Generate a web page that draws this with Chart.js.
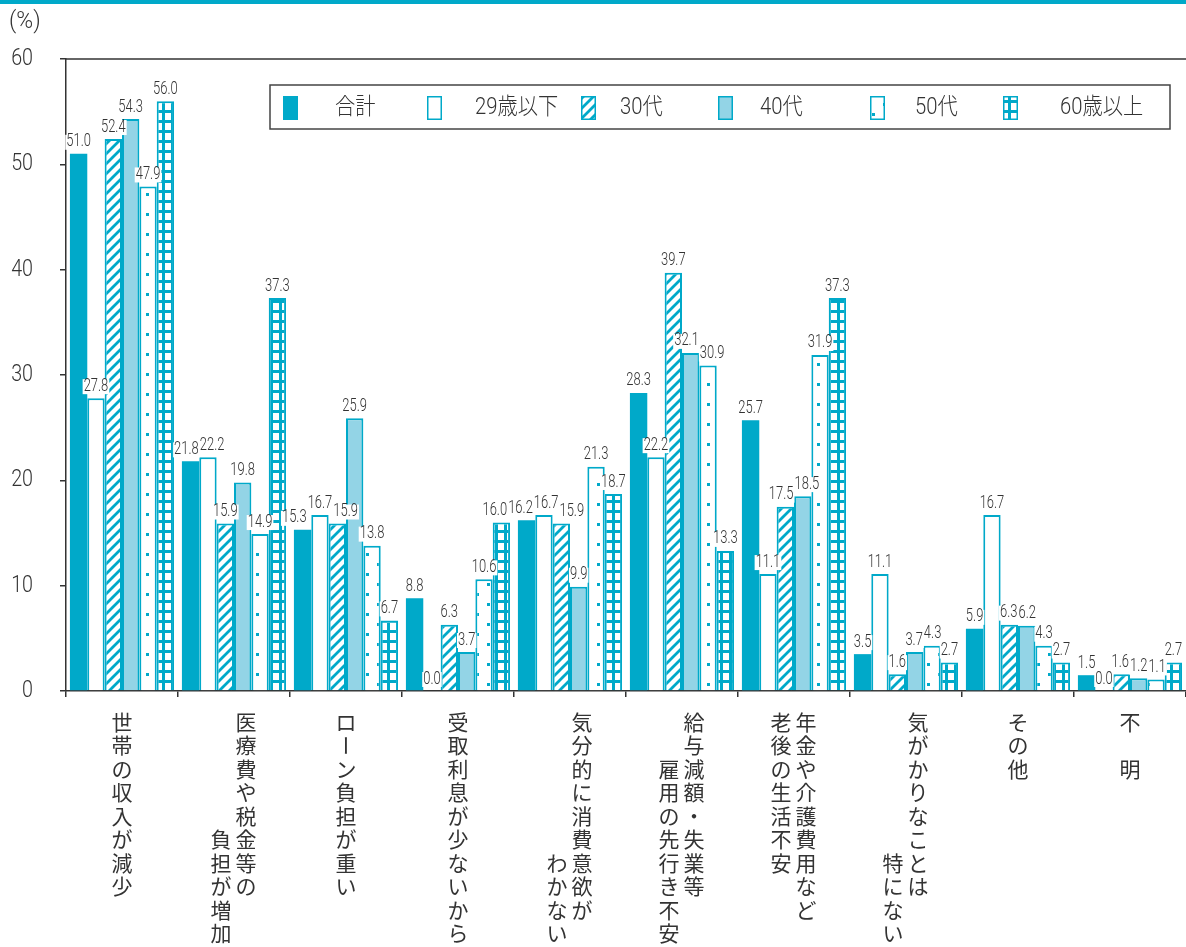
<!DOCTYPE html>
<html lang="ja">
<head>
<meta charset="utf-8">
<title>気がかりなこと</title>
<script src="https://cdn.jsdelivr.net/npm/chart.js@4.4.1/dist/chart.umd.min.js"></script>
<style>
  html, body { margin: 0; padding: 0; background: #fff; }
  #wrap { width: 1186px; height: 947px; }
</style>
</head>
<body>
<div id="wrap"><canvas id="grafico" width="1186" height="947"></canvas></div>
<script>
// categorias (texto vertical, cada item = uma coluna)
const categorias = [
  ["世帯の収入が減少"],
  ["医療費や税金等の", "負担が増加"],
  ["ローン負担が重い"],
  ["受取利息が少ないから"],
  ["気分的に消費意欲が", "わかない"],
  ["給与減額・失業等", "雇用の先行き不安"],
  ["年金や介護費用など", "老後の生活不安"],
  ["気がかりなことは", "特にない"],
  ["その他"],
  ["不　明"]
];

const series = ["合計", "29歳以下", "30代", "40代", "50代", "60歳以上"];

const goukei  = [51.0, 21.8, 15.3,  8.8, 16.2, 28.3, 25.7, 3.5, 5.9, 1.5];
const dai20   = [27.8, 22.2, 16.7,  0.0, 16.7, 22.2, 11.1, 11.1, 16.7, 0.0];
const dai30   = [52.4, 15.9, 15.9,  6.3, 15.9, 39.7, 17.5, 1.6, 6.3, 1.6];
const dai40   = [54.3, 19.8, 25.9,  3.7,  9.9, 32.1, 18.5, 3.7, 6.2, 1.2];
const dai50   = [47.9, 14.9, 13.8, 10.6, 21.3, 30.9, 31.9, 4.3, 4.3, 1.1];
const dai60   = [56.0, 37.3,  6.7, 16.0, 18.7, 13.3, 37.3, 2.7, 2.7, 2.7];

const yTicks = [0, 10, 20, 30, 40, 50, 60];

const TEAL = "#00a9c9";
const LIGHT = "#93d4e6";
const TXT = "#333333";
const NUM_FONT = 'Roboto, "Noto Sans CJK JP", sans-serif';
const JP_FONT = '"Noto Sans CJK JP", sans-serif';

// padrões de preenchimento
function padrao(w, h, desenha) {
  const c = document.createElement("canvas");
  c.width = w; c.height = h;
  const g = c.getContext("2d");
  g.fillStyle = "#fff";
  g.fillRect(0, 0, w, h);
  g.fillStyle = TEAL;
  g.strokeStyle = TEAL;
  desenha(g);
  return g.createPattern(c, "repeat");
}

const hachura = padrao(10, 10, g => {
  g.lineWidth = 2.8;
  g.beginPath();
  g.moveTo(-5, 5); g.lineTo(5, -5);
  g.moveTo(0, 10); g.lineTo(10, 0);
  g.moveTo(5, 15); g.lineTo(15, 5);
  g.stroke();
});
const pontos = padrao(22, 20, g => {
  g.fillRect(3, 3, 3, 3);
  g.fillRect(14, 13, 3, 3);
});
const grade = padrao(9, 10, g => {
  g.fillRect(0, 0, 9, 3);
  g.fillRect(0, 0, 3, 10);
});

const fundos = [TEAL, "#ffffff", hachura, LIGHT, pontos, grade];
const valores = [goukei, dai20, dai30, dai40, dai50, dai60];

// posição das colunas do rótulo (linha inicial da 2a coluna)
const inicioColuna = [[0], [0, 5], [0], [0], [0, 6], [0, 2], [0, 0], [0, 6], [0], [0]];

// texto estreito (fonte condensada)
function textoEstreito(ctx, txt, x, y, esc) {
  ctx.save();
  ctx.translate(x, y);
  ctx.scale(esc, 1);
  ctx.fillText(txt, 0, 0);
  ctx.restore();
}

const pluginExtras = {
  id: "extras",
  beforeDraw(ch) {
    const ctx = ch.ctx;
    ctx.save();
    ctx.fillStyle = TEAL;
    ctx.fillRect(0, 0, ch.width, 4);
    ctx.fillStyle = TXT;
    ctx.font = "300 24px " + NUM_FONT;
    ctx.textBaseline = "middle";
    ctx.textAlign = "left";
    textoEstreito(ctx, "(%)", 9, 22, 0.95);
    ctx.restore();
  },
  afterDatasetsDraw(ch) {
    const ctx = ch.ctx;
    ctx.save();
    ctx.font = "300 18px " + NUM_FONT;
    ctx.textAlign = "center";
    ctx.textBaseline = "bottom";
    const esc = 0.72;
    const itens = [];
    ch.data.datasets.forEach((ds, i) => {
      ch.getDatasetMeta(i).data.forEach((bar, j) => {
        const txt = ds.data[j].toFixed(1);
        const w = ctx.measureText(txt).width * esc;
        itens.push({ txt, x: bar.x, y: bar.y - 4, w });
      });
    });
    // afasta rótulos que se sobrepõem
    for (let it = 0; it < 30; it++) {
      for (let a = 0; a < itens.length; a++) {
        for (let b = 0; b < itens.length; b++) {
          const p = itens[a], q = itens[b];
          if (p.x >= q.x || a === b) continue;
          const sobre = (p.x + p.w / 2 + 1) - (q.x - q.w / 2);
          if (sobre > 0 && Math.abs(p.y - q.y) < 15) {
            p.x -= sobre / 2;
            q.x += sobre / 2;
          }
        }
      }
    }
    itens.forEach(it => {
      ctx.fillStyle = "#fff";
      ctx.fillRect(it.x - it.w / 2 - 1, it.y - 15, it.w + 2, 15);
      ctx.fillStyle = TXT;
      textoEstreito(ctx, it.txt, it.x, it.y + 1, esc);
    });
    ctx.restore();
  },
  afterDraw(ch) {
    const ctx = ch.ctx;
    const area = ch.chartArea;
    const xs = ch.scales.x;
    const ys = ch.scales.y;
    ctx.save();
    // borda superior
    ctx.strokeStyle = TXT;
    ctx.lineWidth = 1.5;
    ctx.beginPath();
    ctx.moveTo(area.left, area.top);
    ctx.lineTo(area.right, area.top);
    ctx.stroke();

    // rótulos do eixo y
    ctx.fillStyle = TXT;
    ctx.font = "300 24px " + NUM_FONT;
    ctx.textAlign = "right";
    ctx.textBaseline = "middle";
    yTicks.forEach(v => {
      textoEstreito(ctx, String(v), 33, ys.getPixelForValue(v), 0.82);
    });

    // rótulos verticais
    ctx.font = "21px " + JP_FONT;
    ctx.textAlign = "center";
    ctx.textBaseline = "middle";
    const passo = 23.5;
    categorias.forEach((cols, i) => {
      const cx = xs.getPixelForValue(i);
      cols.forEach((linha, k) => {
        const x = cols.length === 1 ? cx : cx + (k === 0 ? 12 : -13);
        [...linha].forEach((ch2, r) => {
          const y = area.bottom + 31 + (inicioColuna[i][k] + r) * passo;
          if (ch2 === "ー") {
            ctx.save();
            ctx.translate(x, y);
            ctx.rotate(Math.PI / 2);
            ctx.fillText(ch2, 0, 0);
            ctx.restore();
          } else {
            ctx.fillText(ch2, x, y);
          }
        });
      });
    });

    // legenda
    const lx = 270, ly = 85, lw = 900, lh = 44;
    ctx.strokeStyle = "#444";
    ctx.lineWidth = 1.5;
    ctx.strokeRect(lx, ly, lw, lh);
    const sw = [283, 427, 581, 718, 870, 1003];
    const tx = [335, 475, 620, 760, 915, 1060];
    ctx.textAlign = "left";
    ctx.font = "300 23px " + NUM_FONT;
    series.forEach((nome, i) => {
      ctx.fillStyle = fundos[i];
      ctx.fillRect(sw[i], 96, 15, 24);
      ctx.strokeStyle = TEAL;
      ctx.lineWidth = 1.5;
      ctx.strokeRect(sw[i] + 0.75, 96.75, 13.5, 22.5);
      ctx.fillStyle = TXT;
      textoEstreito(ctx, nome, tx[i], 108, 0.88);
    });
    ctx.restore();
  }
};

const ctx = document.getElementById("grafico").getContext("2d");
const chart = new Chart(ctx, {
  type: "bar",
  data: {
    labels: categorias.map(c => c.join("")),
    datasets: series.map((nome, i) => ({
      label: nome,
      data: valores[i],
      backgroundColor: fundos[i],
      borderColor: TEAL,
      borderWidth: i === 0 ? 0 : 2,
      borderSkipped: "bottom",
      categoryPercentage: 0.93,
      barPercentage: 1.0
    }))
  },
  options: {
    responsive: false,
    animation: false,
    layout: { padding: { top: 59, right: 0, left: 0, bottom: 0 } },
    plugins: {
      legend: { display: false },
      tooltip: { enabled: false }
    },
    scales: {
      x: {
        afterFit: s => { s.height = 256; },
        ticks: { display: false },
        grid: {
          offset: true,
          drawOnChartArea: false,
          drawTicks: true,
          tickLength: 6,
          color: TXT,
          lineWidth: 1.5
        },
        border: { display: true, color: TXT, width: 1.5 }
      },
      y: {
        min: 0,
        max: 60,
        afterFit: s => { s.width = 66; },
        afterBuildTicks: s => { s.ticks = yTicks.map(v => ({ value: v })); },
        ticks: { display: false },
        grid: {
          drawOnChartArea: false,
          drawTicks: true,
          tickLength: 6,
          color: TXT,
          lineWidth: 1.5
        },
        border: { display: true, color: TXT, width: 1.5 }
      }
    }
  },
  plugins: [pluginExtras]
});
</script>
</body>
</html>
